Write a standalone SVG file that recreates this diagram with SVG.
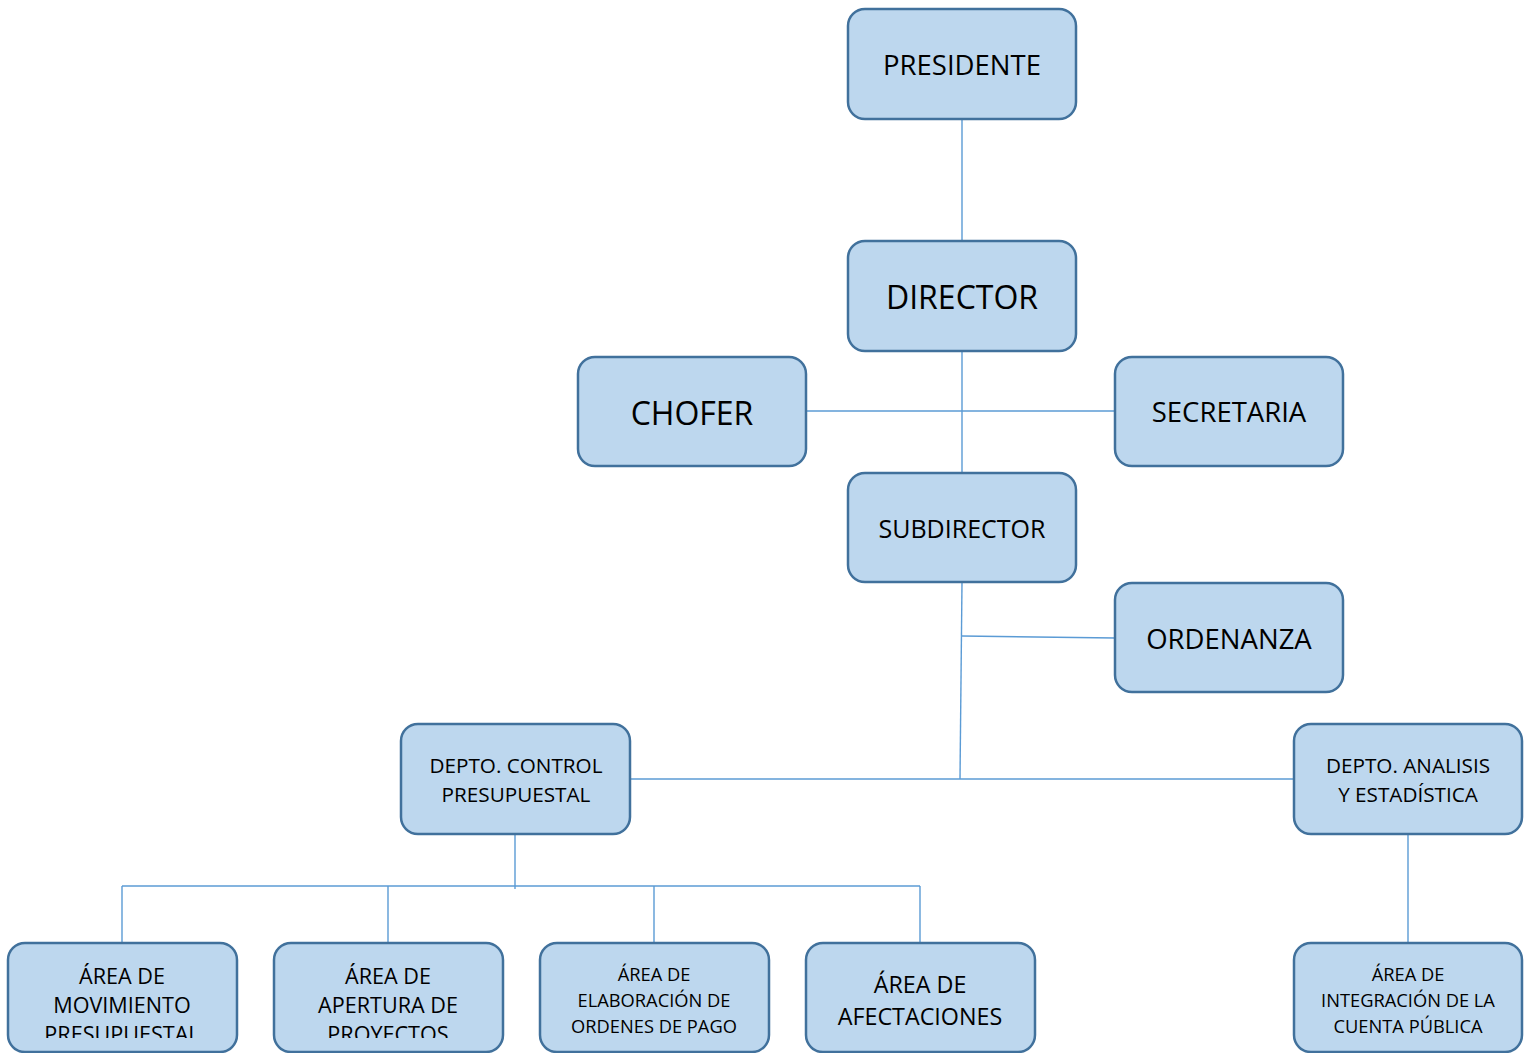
<svg xmlns="http://www.w3.org/2000/svg" width="1531" height="1053" viewBox="0 0 1531 1053">
  <style>
    .box { fill: #bdd7ee; stroke: #41719c; stroke-width: 2.5; }
    .lbl { font-family: "Open Sans", "Liberation Sans", sans-serif; fill: #000; text-anchor: middle; dominant-baseline: central; }
    .wire { stroke: #5b9bd5; stroke-width: 1.4; fill: none; }
  </style>
  <defs>
    <clipPath id="clip-mov"><rect x="10" y="945" width="225" height="93"/></clipPath>
    <clipPath id="clip-ape"><rect x="276" y="945" width="225" height="93"/></clipPath>
  </defs>
  <rect width="1531" height="1053" fill="#fff"/>

  <!-- connectors -->
  <g id="connectors">
    <line class="wire" x1="962" y1="119" x2="962" y2="241"/>
    <line class="wire" x1="962" y1="351" x2="962" y2="473"/>
    <line class="wire" x1="806" y1="411" x2="1115" y2="411"/>
    <line class="wire" x1="962" y1="582" x2="960" y2="779"/>
    <line class="wire" x1="962" y1="636" x2="1115" y2="638"/>
    <line class="wire" x1="630" y1="779" x2="1294" y2="779"/>
    <line class="wire" x1="515" y1="834" x2="515" y2="889"/>
    <line class="wire" x1="122" y1="886" x2="920" y2="886"/>
    <line class="wire" x1="122" y1="886" x2="122" y2="943"/>
    <line class="wire" x1="388" y1="886" x2="388" y2="943"/>
    <line class="wire" x1="654" y1="886" x2="654" y2="943"/>
    <line class="wire" x1="920" y1="886" x2="920" y2="943"/>
    <line class="wire" x1="1408" y1="834" x2="1408" y2="943"/>
  </g>

  <g id="presidente">
    <rect class="box" x="848" y="9" width="228" height="110" rx="17"/>
    <text class="lbl" x="962" y="64" font-size="27.5">PRESIDENTE</text>
  </g>
  <g id="director">
    <rect class="box" x="848" y="241" width="228" height="110" rx="17"/>
    <text class="lbl" x="962" y="296" font-size="32">DIRECTOR</text>
  </g>
  <g id="chofer">
    <rect class="box" x="578" y="357" width="228" height="109" rx="17"/>
    <text class="lbl" x="692" y="412" font-size="32">CHOFER</text>
  </g>
  <g id="secretaria">
    <rect class="box" x="1115" y="357" width="228" height="109" rx="17"/>
    <text class="lbl" x="1229" y="411" font-size="27.5">SECRETARIA</text>
  </g>
  <g id="subdirector">
    <rect class="box" x="848" y="473" width="228" height="109" rx="17"/>
    <text class="lbl" x="962" y="528" font-size="25">SUBDIRECTOR</text>
  </g>
  <g id="ordenanza">
    <rect class="box" x="1115" y="583" width="228" height="109" rx="17"/>
    <text class="lbl" x="1229" y="638" font-size="27.5">ORDENANZA</text>
  </g>
  <g id="depto-control">
    <rect class="box" x="401" y="724" width="229" height="110" rx="17"/>
    <text class="lbl" x="516" y="765" font-size="20.7">DEPTO. CONTROL</text>
    <text class="lbl" x="516" y="794" font-size="20.7">PRESUPUESTAL</text>
  </g>
  <g id="depto-analisis">
    <rect class="box" x="1294" y="724" width="228" height="110" rx="17"/>
    <text class="lbl" x="1408" y="765" font-size="20.7">DEPTO. ANALISIS</text>
    <text class="lbl" x="1408" y="794" font-size="20.7">Y ESTADÍSTICA</text>
  </g>
  <g id="area-movimiento">
    <rect class="box" x="8" y="943" width="229" height="109" rx="17"/>
    <g clip-path="url(#clip-mov)">
      <text class="lbl" x="122" y="975" font-size="21.6">ÁREA DE</text>
      <text class="lbl" x="122" y="1004" font-size="21.6">MOVIMIENTO</text>
      <text class="lbl" x="122" y="1033" font-size="21.6">PRESUPUESTAL</text>
    </g>
  </g>
  <g id="area-apertura">
    <rect class="box" x="274" y="943" width="229" height="109" rx="17"/>
    <g clip-path="url(#clip-ape)">
      <text class="lbl" x="388" y="975" font-size="21.6">ÁREA DE</text>
      <text class="lbl" x="388" y="1004" font-size="21.6">APERTURA DE</text>
      <text class="lbl" x="388" y="1033" font-size="21.6">PROYECTOS</text>
    </g>
  </g>
  <g id="area-elaboracion">
    <rect class="box" x="540" y="943" width="229" height="109" rx="17"/>
    <text class="lbl" x="654" y="973" font-size="18.3">ÁREA DE</text>
    <text class="lbl" x="654" y="999" font-size="18.3">ELABORACIÓN DE</text>
    <text class="lbl" x="654" y="1025" font-size="18.3">ORDENES DE PAGO</text>
  </g>
  <g id="area-afectaciones">
    <rect class="box" x="806" y="943" width="229" height="109" rx="17"/>
    <text class="lbl" x="920" y="984" font-size="23.3">ÁREA DE</text>
    <text class="lbl" x="920" y="1016" font-size="23.3">AFECTACIONES</text>
  </g>
  <g id="area-integracion">
    <rect class="box" x="1294" y="943" width="228" height="109" rx="17"/>
    <text class="lbl" x="1408" y="973" font-size="18.3">ÁREA DE</text>
    <text class="lbl" x="1408" y="999" font-size="18.3">INTEGRACIÓN DE LA</text>
    <text class="lbl" x="1408" y="1025" font-size="18.3">CUENTA PÚBLICA</text>
  </g>
</svg>
